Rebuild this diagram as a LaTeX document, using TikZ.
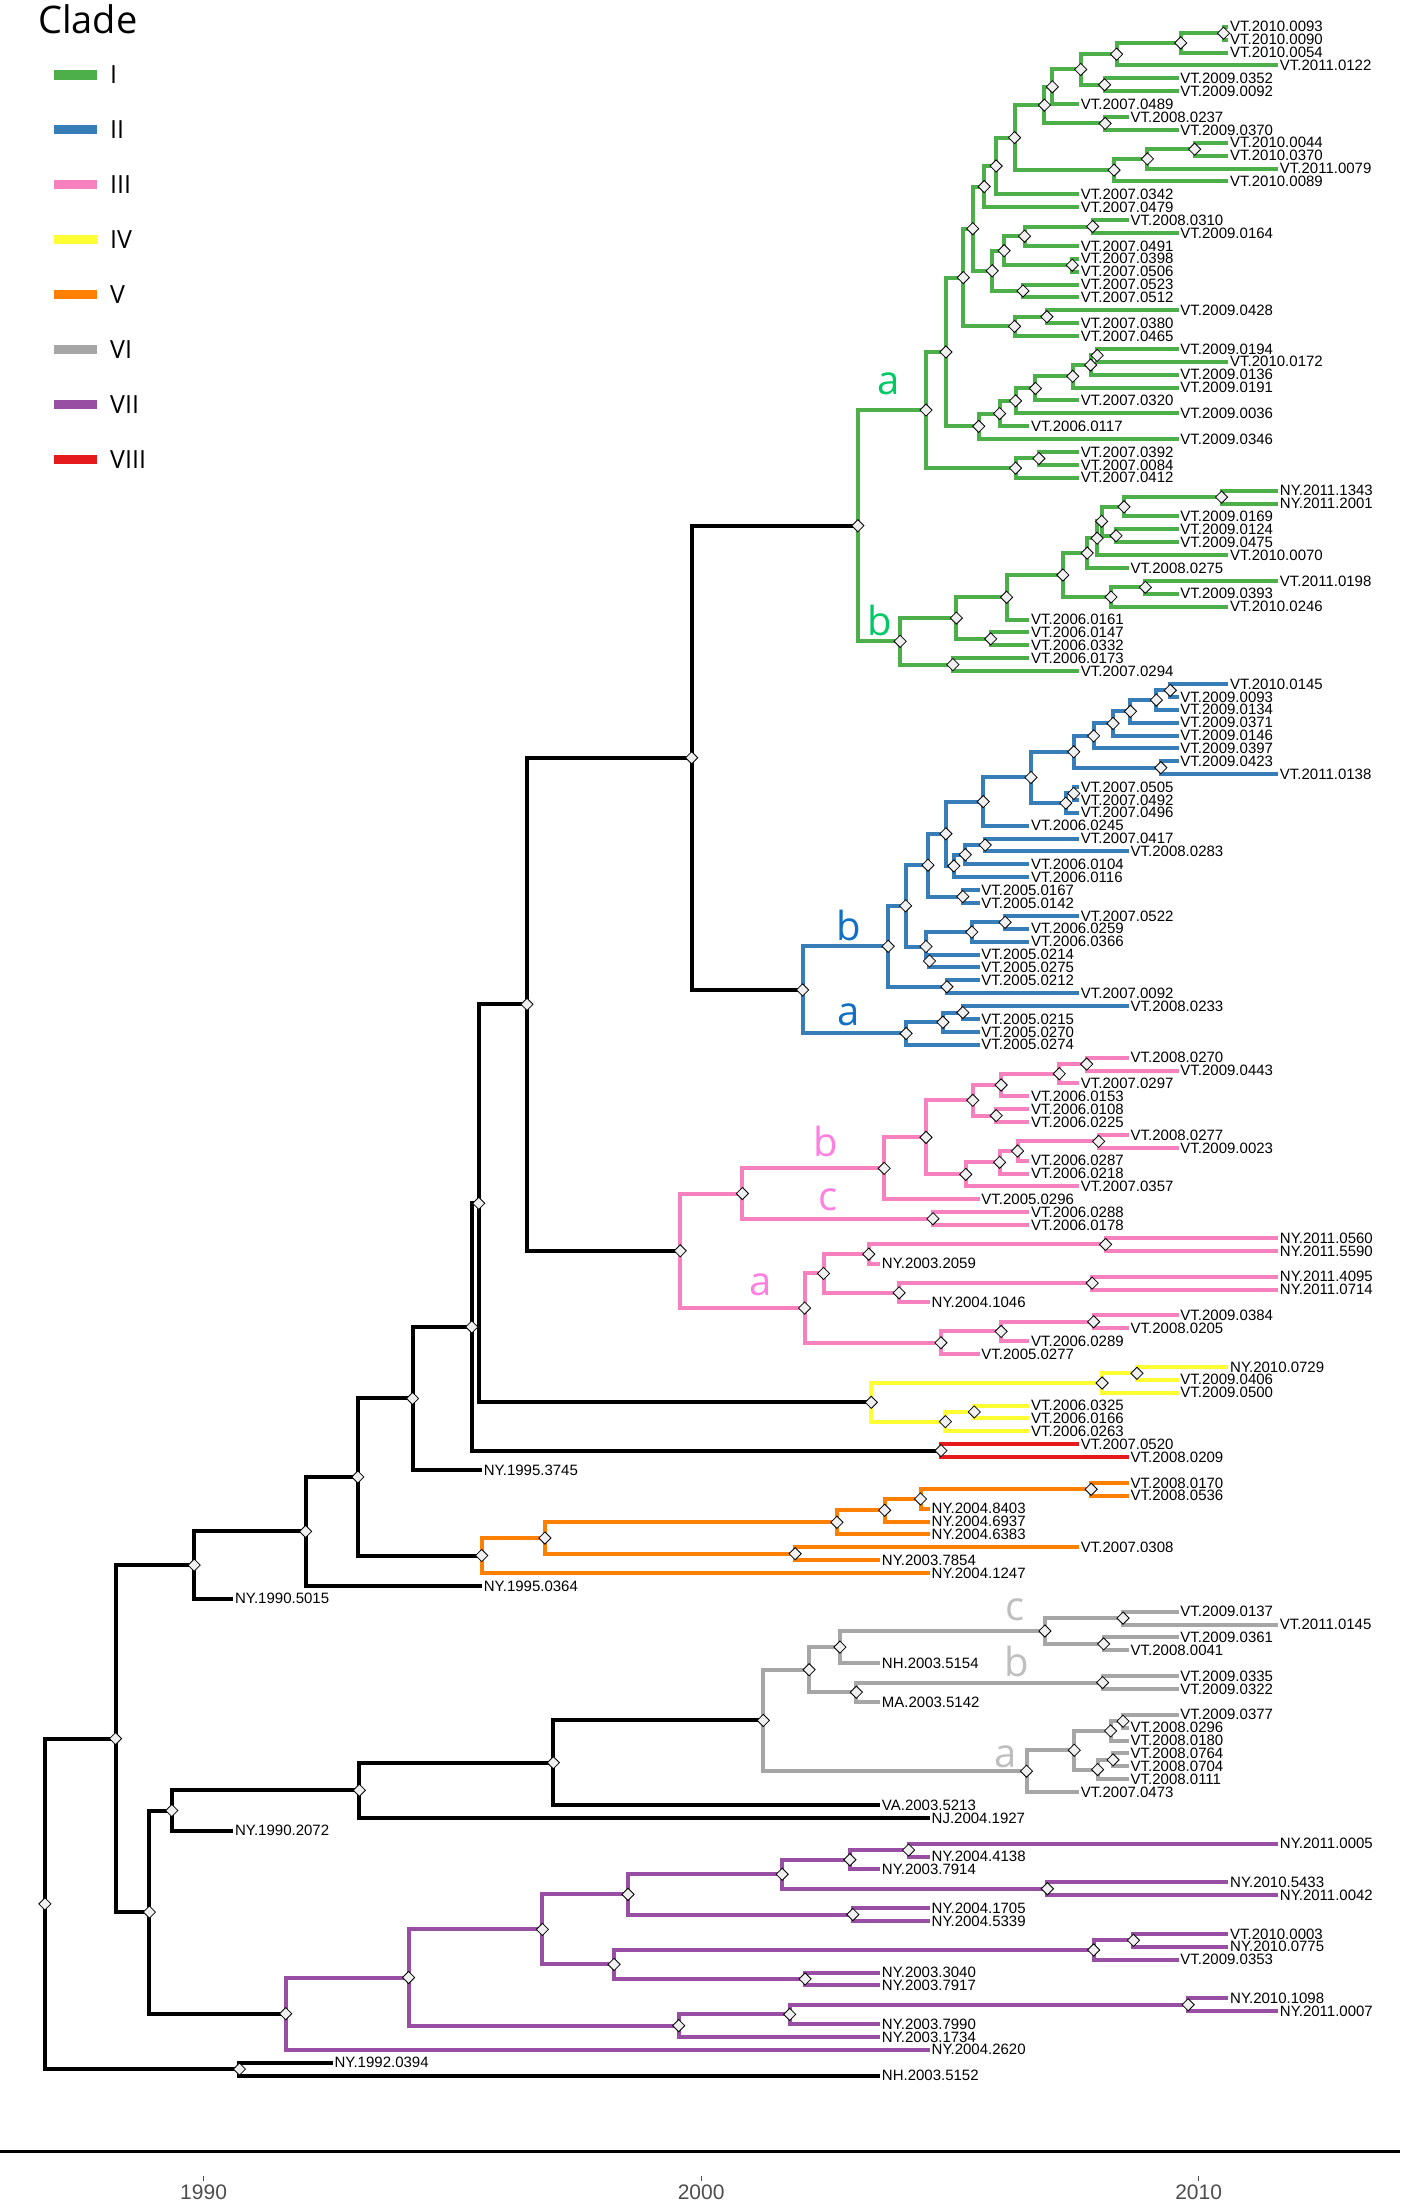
\documentclass[tikz,border=0pt]{standalone}
\usepackage{fontspec}
\setmainfont{Liberation Sans}
\newfontfamily\keyfont{Open Sans}
\usepackage{tikz}
\usetikzlibrary{shapes.geometric,calc}
\pgfdeclarelayer{bg}
\pgfsetlayers{bg,main}

\begin{document}
\begin{tikzpicture}[x=49.75pt,y=-12.885pt,
    branch/.style={line width=4pt},
    junction/.style={diamond,draw=black,fill=gray!12,line width=0.8pt,inner sep=0pt,minimum width=12.5pt,minimum height=12.5pt},
    taxon/.style={anchor=west,inner sep=1.5pt,font=\fontsize{15pt}{15pt}\selectfont},
    sublabel/.style={inner sep=0pt,font=\keyfont\fontsize{40pt}{40pt}\selectfont},
    keyline/.style={minimum width=43pt,minimum height=9.5pt,inner sep=0pt},
    keytext/.style={anchor=west,inner sep=0pt,font=\keyfont\fontsize{25pt}{25pt}\selectfont},
    yeartext/.style={text=axisgrey,inner sep=0pt,font=\fontsize{21pt}{21pt}\selectfont}]
\definecolor{cI}{RGB}{77,175,74}
\definecolor{cII}{RGB}{55,126,184}
\definecolor{cIII}{RGB}{247,129,191}
\definecolor{cIV}{RGB}{255,255,51}
\definecolor{cV}{RGB}{255,127,0}
\definecolor{cVI}{RGB}{166,166,166}
\definecolor{cVII}{RGB}{152,78,163}
\definecolor{cVIII}{RGB}{228,26,28}
\definecolor{subI}{RGB}{0,200,100}
\definecolor{subII}{RGB}{16,112,196}
\definecolor{subIII}{RGB}{255,128,224}
\definecolor{subVI}{RGB}{190,190,190}
\definecolor{axisgrey}{RGB}{77,77,77}
\def\isolate#1#2#3{\coordinate (t#1) at ({#2-1989.4},#1); \node[taxon] (l#1) at (t#1) {#3};}
\def\junc#1#2#3#4#5{\coordinate (#2m) at ($(#4)!0.5!(#5)$); \node[junction] (#2) at (#3,0 |- #2m) {};
  \begin{pgfonlayer}{bg}\draw[branch,#1] (#2.center) |- (#4.center); \draw[branch,#1] (#2.center) |- (#5.center);\end{pgfonlayer}}
\useasboundingbox (-4.0925,-1.0799) rectangle (24.048,169.89);
% tips
\isolate{1}{2010}{VT.2010.0093}
\isolate{2}{2010}{VT.2010.0090}
\isolate{3}{2010}{VT.2010.0054}
\isolate{4}{2011}{VT.2011.0122}
\isolate{5}{2009}{VT.2009.0352}
\isolate{6}{2009}{VT.2009.0092}
\isolate{7}{2007}{VT.2007.0489}
\isolate{8}{2008}{VT.2008.0237}
\isolate{9}{2009}{VT.2009.0370}
\isolate{10}{2010}{VT.2010.0044}
\isolate{11}{2010}{VT.2010.0370}
\isolate{12}{2011}{VT.2011.0079}
\isolate{13}{2010}{VT.2010.0089}
\isolate{14}{2007}{VT.2007.0342}
\isolate{15}{2007}{VT.2007.0479}
\isolate{16}{2008}{VT.2008.0310}
\isolate{17}{2009}{VT.2009.0164}
\isolate{18}{2007}{VT.2007.0491}
\isolate{19}{2007}{VT.2007.0398}
\isolate{20}{2007}{VT.2007.0506}
\isolate{21}{2007}{VT.2007.0523}
\isolate{22}{2007}{VT.2007.0512}
\isolate{23}{2009}{VT.2009.0428}
\isolate{24}{2007}{VT.2007.0380}
\isolate{25}{2007}{VT.2007.0465}
\isolate{26}{2009}{VT.2009.0194}
\isolate{27}{2010}{VT.2010.0172}
\isolate{28}{2009}{VT.2009.0136}
\isolate{29}{2009}{VT.2009.0191}
\isolate{30}{2007}{VT.2007.0320}
\isolate{31}{2009}{VT.2009.0036}
\isolate{32}{2006}{VT.2006.0117}
\isolate{33}{2009}{VT.2009.0346}
\isolate{34}{2007}{VT.2007.0392}
\isolate{35}{2007}{VT.2007.0084}
\isolate{36}{2007}{VT.2007.0412}
\isolate{37}{2011}{NY.2011.1343}
\isolate{38}{2011}{NY.2011.2001}
\isolate{39}{2009}{VT.2009.0169}
\isolate{40}{2009}{VT.2009.0124}
\isolate{41}{2009}{VT.2009.0475}
\isolate{42}{2010}{VT.2010.0070}
\isolate{43}{2008}{VT.2008.0275}
\isolate{44}{2011}{VT.2011.0198}
\isolate{45}{2009}{VT.2009.0393}
\isolate{46}{2010}{VT.2010.0246}
\isolate{47}{2006}{VT.2006.0161}
\isolate{48}{2006}{VT.2006.0147}
\isolate{49}{2006}{VT.2006.0332}
\isolate{50}{2006}{VT.2006.0173}
\isolate{51}{2007}{VT.2007.0294}
\isolate{52}{2010}{VT.2010.0145}
\isolate{53}{2009}{VT.2009.0093}
\isolate{54}{2009}{VT.2009.0134}
\isolate{55}{2009}{VT.2009.0371}
\isolate{56}{2009}{VT.2009.0146}
\isolate{57}{2009}{VT.2009.0397}
\isolate{58}{2009}{VT.2009.0423}
\isolate{59}{2011}{VT.2011.0138}
\isolate{60}{2007}{VT.2007.0505}
\isolate{61}{2007}{VT.2007.0492}
\isolate{62}{2007}{VT.2007.0496}
\isolate{63}{2006}{VT.2006.0245}
\isolate{64}{2007}{VT.2007.0417}
\isolate{65}{2008}{VT.2008.0283}
\isolate{66}{2006}{VT.2006.0104}
\isolate{67}{2006}{VT.2006.0116}
\isolate{68}{2005}{VT.2005.0167}
\isolate{69}{2005}{VT.2005.0142}
\isolate{70}{2007}{VT.2007.0522}
\isolate{71}{2006}{VT.2006.0259}
\isolate{72}{2006}{VT.2006.0366}
\isolate{73}{2005}{VT.2005.0214}
\isolate{74}{2005}{VT.2005.0275}
\isolate{75}{2005}{VT.2005.0212}
\isolate{76}{2007}{VT.2007.0092}
\isolate{77}{2008}{VT.2008.0233}
\isolate{78}{2005}{VT.2005.0215}
\isolate{79}{2005}{VT.2005.0270}
\isolate{80}{2005}{VT.2005.0274}
\isolate{81}{2008}{VT.2008.0270}
\isolate{82}{2009}{VT.2009.0443}
\isolate{83}{2007}{VT.2007.0297}
\isolate{84}{2006}{VT.2006.0153}
\isolate{85}{2006}{VT.2006.0108}
\isolate{86}{2006}{VT.2006.0225}
\isolate{87}{2008}{VT.2008.0277}
\isolate{88}{2009}{VT.2009.0023}
\isolate{89}{2006}{VT.2006.0287}
\isolate{90}{2006}{VT.2006.0218}
\isolate{91}{2007}{VT.2007.0357}
\isolate{92}{2005}{VT.2005.0296}
\isolate{93}{2006}{VT.2006.0288}
\isolate{94}{2006}{VT.2006.0178}
\isolate{95}{2011}{NY.2011.0560}
\isolate{96}{2011}{NY.2011.5590}
\isolate{97}{2003}{NY.2003.2059}
\isolate{98}{2011}{NY.2011.4095}
\isolate{99}{2011}{NY.2011.0714}
\isolate{100}{2004}{NY.2004.1046}
\isolate{101}{2009}{VT.2009.0384}
\isolate{102}{2008}{VT.2008.0205}
\isolate{103}{2006}{VT.2006.0289}
\isolate{104}{2005}{VT.2005.0277}
\isolate{105}{2010}{NY.2010.0729}
\isolate{106}{2009}{VT.2009.0406}
\isolate{107}{2009}{VT.2009.0500}
\isolate{108}{2006}{VT.2006.0325}
\isolate{109}{2006}{VT.2006.0166}
\isolate{110}{2006}{VT.2006.0263}
\isolate{111}{2007}{VT.2007.0520}
\isolate{112}{2008}{VT.2008.0209}
\isolate{113}{1995}{NY.1995.3745}
\isolate{114}{2008}{VT.2008.0170}
\isolate{115}{2008}{VT.2008.0536}
\isolate{116}{2004}{NY.2004.8403}
\isolate{117}{2004}{NY.2004.6937}
\isolate{118}{2004}{NY.2004.6383}
\isolate{119}{2007}{VT.2007.0308}
\isolate{120}{2003}{NY.2003.7854}
\isolate{121}{2004}{NY.2004.1247}
\isolate{122}{1995}{NY.1995.0364}
\isolate{123}{1990}{NY.1990.5015}
\isolate{124}{2009}{VT.2009.0137}
\isolate{125}{2011}{VT.2011.0145}
\isolate{126}{2009}{VT.2009.0361}
\isolate{127}{2008}{VT.2008.0041}
\isolate{128}{2003}{NH.2003.5154}
\isolate{129}{2009}{VT.2009.0335}
\isolate{130}{2009}{VT.2009.0322}
\isolate{131}{2003}{MA.2003.5142}
\isolate{132}{2009}{VT.2009.0377}
\isolate{133}{2008}{VT.2008.0296}
\isolate{134}{2008}{VT.2008.0180}
\isolate{135}{2008}{VT.2008.0764}
\isolate{136}{2008}{VT.2008.0704}
\isolate{137}{2008}{VT.2008.0111}
\isolate{138}{2007}{VT.2007.0473}
\isolate{139}{2003}{VA.2003.5213}
\isolate{140}{2004}{NJ.2004.1927}
\isolate{141}{1990}{NY.1990.2072}
\isolate{142}{2011}{NY.2011.0005}
\isolate{143}{2004}{NY.2004.4138}
\isolate{144}{2003}{NY.2003.7914}
\isolate{145}{2010}{NY.2010.5433}
\isolate{146}{2011}{NY.2011.0042}
\isolate{147}{2004}{NY.2004.1705}
\isolate{148}{2004}{NY.2004.5339}
\isolate{149}{2010}{VT.2010.0003}
\isolate{150}{2010}{NY.2010.0775}
\isolate{151}{2009}{VT.2009.0353}
\isolate{152}{2003}{NY.2003.3040}
\isolate{153}{2003}{NY.2003.7917}
\isolate{154}{2010}{NY.2010.1098}
\isolate{155}{2011}{NY.2011.0007}
\isolate{156}{2003}{NY.2003.7990}
\isolate{157}{2003}{NY.2003.1734}
\isolate{158}{2004}{NY.2004.2620}
\isolate{159}{1992}{NY.1992.0394}
\isolate{160}{2003}{NH.2003.5152}
% clade I
\junc{cI}{n1to2}{20.50}{t1}{t2}
\junc{cI}{n1to3}{19.64}{n1to2}{t3}
\junc{cI}{n1to4}{18.35}{n1to3}{t4}
\junc{cI}{n5to6}{18.11}{t5}{t6}
\junc{cI}{n1to6}{17.63}{n1to4}{n5to6}
\junc{cI}{n1to7}{17.06}{n1to6}{t7}
\junc{cI}{n8to9}{18.12}{t8}{t9}
\junc{cI}{n1to9}{16.90}{n1to7}{n8to9}
\junc{cI}{n10to11}{19.92}{t10}{t11}
\junc{cI}{n10to12}{18.97}{n10to11}{t12}
\junc{cI}{n10to13}{18.30}{n10to12}{t13}
\junc{cI}{n1to13}{16.30}{n1to9}{n10to13}
\junc{cI}{n1to14}{15.93}{n1to13}{t14}
\junc{cI}{n1to15}{15.69}{n1to14}{t15}
\junc{cI}{n16to17}{17.87}{t16}{t17}
\junc{cI}{n16to18}{16.50}{n16to17}{t18}
\junc{cI}{n19to20}{17.46}{t19}{t20}
\junc{cI}{n16to20}{16.09}{n16to18}{n19to20}
\junc{cI}{n21to22}{16.47}{t21}{t22}
\junc{cI}{n16to22}{15.85}{n16to20}{n21to22}
\junc{cI}{n1to22}{15.46}{n1to15}{n16to22}
\junc{cI}{n23to24}{16.95}{t23}{t24}
\junc{cI}{n23to25}{16.30}{n23to24}{t25}
\junc{cI}{n1to25}{15.27}{n1to22}{n23to25}
\junc{cI}{n26to27}{17.96}{t26}{t27}
\junc{cI}{n26to28}{17.83}{n26to27}{t28}
\junc{cI}{n26to29}{17.47}{n26to28}{t29}
\junc{cI}{n26to30}{16.72}{n26to29}{t30}
\junc{cI}{n26to31}{16.32}{n26to30}{t31}
\junc{cI}{n26to32}{16.00}{n26to31}{t32}
\junc{cI}{n26to33}{15.58}{n26to32}{t33}
\junc{cI}{n1to33}{14.92}{n1to25}{n26to33}
\junc{cI}{n34to35}{16.79}{t34}{t35}
\junc{cI}{n34to36}{16.32}{n34to35}{t36}
\junc{cI}{n1to36}{14.52}{n1to33}{n34to36}
\junc{cI}{n37to38}{20.46}{t37}{t38}
\junc{cI}{n37to39}{18.50}{n37to38}{t39}
\junc{cI}{n40to41}{18.34}{t40}{t41}
\junc{cI}{n37to41}{18.05}{n37to39}{n40to41}
\junc{cI}{n37to42}{17.96}{n37to41}{t42}
\junc{cI}{n37to43}{17.76}{n37to42}{t43}
\junc{cI}{n44to45}{18.93}{t44}{t45}
\junc{cI}{n44to46}{18.24}{n44to45}{t46}
\junc{cI}{n37to46}{17.27}{n37to43}{n44to46}
\junc{cI}{n37to47}{16.14}{n37to46}{t47}
\junc{cI}{n48to49}{15.82}{t48}{t49}
\junc{cI}{n37to49}{15.13}{n37to47}{n48to49}
\junc{cI}{n50to51}{15.06}{t50}{t51}
\junc{cI}{n37to51}{14.00}{n37to49}{n50to51}
\junc{cI}{n1to51}{13.15}{n1to36}{n37to51}
% clade II
\junc{cII}{n52to53}{19.43}{t52}{t53}
\junc{cII}{n52to54}{19.15}{n52to53}{t54}
\junc{cII}{n52to55}{18.63}{n52to54}{t55}
\junc{cII}{n52to56}{18.28}{n52to55}{t56}
\junc{cII}{n52to57}{17.89}{n52to56}{t57}
\junc{cII}{n58to59}{19.24}{t58}{t59}
\junc{cII}{n52to59}{17.49}{n52to57}{n58to59}
\junc{cII}{n60to61}{17.49}{t60}{t61}
\junc{cII}{n60to62}{17.33}{n60to61}{t62}
\junc{cII}{n52to62}{16.63}{n52to59}{n60to62}
\junc{cII}{n52to63}{15.67}{n52to62}{t63}
\junc{cII}{n64to65}{15.71}{t64}{t65}
\junc{cII}{n64to66}{15.31}{n64to65}{t66}
\junc{cII}{n64to67}{15.08}{n64to66}{t67}
\junc{cII}{n52to67}{14.92}{n52to63}{n64to67}
\junc{cII}{n68to69}{15.26}{t68}{t69}
\junc{cII}{n52to69}{14.56}{n52to67}{n68to69}
\junc{cII}{n70to71}{16.11}{t70}{t71}
\junc{cII}{n70to72}{15.44}{n70to71}{t72}
\junc{cII}{n73to74}{14.59}{t73}{t74}
\junc{cII}{n70to74}{14.52}{n70to72}{n73to74}
\junc{cII}{n52to74}{14.11}{n52to69}{n70to74}
\junc{cII}{n75to76}{14.94}{t75}{t76}
\junc{cII}{n52to76}{13.76}{n52to74}{n75to76}
\junc{cII}{n77to78}{15.26}{t77}{t78}
\junc{cII}{n77to79}{14.86}{n77to78}{t79}
\junc{cII}{n77to80}{14.12}{n77to79}{t80}
\junc{cII}{n52to80}{12.04}{n52to76}{n77to80}
\junc{black}{n1to80}{9.81}{n1to51}{n52to80}
% clade III
\junc{cIII}{n81to82}{17.75}{t81}{t82}
\junc{cIII}{n81to83}{17.20}{n81to82}{t83}
\junc{cIII}{n81to84}{16.03}{n81to83}{t84}
\junc{cIII}{n85to86}{15.93}{t85}{t86}
\junc{cIII}{n81to86}{15.46}{n81to84}{n85to86}
\junc{cIII}{n87to88}{17.99}{t87}{t88}
\junc{cIII}{n87to89}{16.36}{n87to88}{t89}
\junc{cIII}{n87to90}{16.00}{n87to89}{t90}
\junc{cIII}{n87to91}{15.32}{n87to90}{t91}
\junc{cIII}{n81to91}{14.52}{n81to86}{n87to91}
\junc{cIII}{n81to92}{13.68}{n81to91}{t92}
\junc{cIII}{n93to94}{14.66}{t93}{t94}
\junc{cIII}{n81to94}{10.83}{n81to92}{n93to94}
\junc{cIII}{n95to96}{18.13}{t95}{t96}
\junc{cIII}{n95to97}{13.37}{n95to96}{t97}
\junc{cIII}{n98to99}{17.86}{t98}{t99}
\junc{cIII}{n98to100}{13.98}{n98to99}{t100}
\junc{cIII}{n95to100}{12.46}{n95to97}{n98to100}
\junc{cIII}{n101to102}{17.89}{t101}{t102}
\junc{cIII}{n101to103}{16.03}{n101to102}{t103}
\junc{cIII}{n101to104}{14.82}{n101to103}{t104}
\junc{cIII}{n95to104}{12.08}{n95to100}{n101to104}
\junc{cIII}{n81to104}{9.58}{n81to94}{n95to104}
\junc{black}{n1to104}{6.50}{n1to80}{n81to104}
% clades IV and VIII
\junc{cIV}{n105to106}{18.76}{t105}{t106}
\junc{cIV}{n105to107}{18.06}{n105to106}{t107}
\junc{cIV}{n108to109}{15.49}{t108}{t109}
\junc{cIV}{n108to110}{14.91}{n108to109}{t110}
\junc{cIV}{n105to110}{13.42}{n105to107}{n108to110}
\junc{black}{n1to110}{5.53}{n1to104}{n105to110}
\junc{cVIII}{n111to112}{14.82}{t111}{t112}
\junc{black}{n1to112}{5.39}{n1to110}{n111to112}
\junc{black}{n1to113}{4.20}{n1to112}{t113}
% clade V
\junc{cV}{n114to115}{17.84}{t114}{t115}
\junc{cV}{n114to116}{14.41}{n114to115}{t116}
\junc{cV}{n114to117}{13.69}{n114to116}{t117}
\junc{cV}{n114to118}{12.73}{n114to117}{t118}
\junc{cV}{n119to120}{11.89}{t119}{t120}
\junc{cV}{n114to120}{6.86}{n114to118}{n119to120}
\junc{cV}{n114to121}{5.59}{n114to120}{t121}
\junc{black}{n1to121}{3.10}{n1to113}{n114to121}
\junc{black}{n1to122}{2.05}{n1to121}{t122}
\junc{black}{n1to123}{-0.19}{n1to122}{t123}
% clade VI
\junc{cVI}{n124to125}{18.48}{t124}{t125}
\junc{cVI}{n126to127}{18.09}{t126}{t127}
\junc{cVI}{n124to127}{16.91}{n124to125}{n126to127}
\junc{cVI}{n124to128}{12.79}{n124to127}{t128}
\junc{cVI}{n129to130}{18.07}{t129}{t130}
\junc{cVI}{n129to131}{13.12}{n129to130}{t131}
\junc{cVI}{n124to131}{12.17}{n124to128}{n129to131}
\junc{cVI}{n132to133}{18.48}{t132}{t133}
\junc{cVI}{n132to134}{18.23}{n132to133}{t134}
\junc{cVI}{n135to136}{18.28}{t135}{t136}
\junc{cVI}{n135to137}{17.97}{n135to136}{t137}
\junc{cVI}{n132to137}{17.50}{n132to134}{n135to137}
\junc{cVI}{n132to138}{16.54}{n132to137}{t138}
\junc{cVI}{n124to138}{11.25}{n124to131}{n132to138}
\junc{black}{n124to139}{7.03}{n124to138}{t139}
\junc{black}{n124to140}{3.13}{n124to139}{t140}
\junc{black}{n124to141}{-0.64}{n124to140}{t141}
% clade VII
\junc{cVII}{n142to143}{14.17}{t142}{t143}
\junc{cVII}{n142to144}{12.99}{n142to143}{t144}
\junc{cVII}{n145to146}{16.96}{t145}{t146}
\junc{cVII}{n142to146}{11.63}{n142to144}{n145to146}
\junc{cVII}{n147to148}{13.05}{t147}{t148}
\junc{cVII}{n142to148}{8.53}{n142to146}{n147to148}
\junc{cVII}{n149to150}{18.69}{t149}{t150}
\junc{cVII}{n149to151}{17.89}{n149to150}{t151}
\junc{cVII}{n152to153}{12.09}{t152}{t153}
\junc{cVII}{n149to153}{8.25}{n149to151}{n152to153}
\junc{cVII}{n142to153}{6.81}{n142to148}{n149to153}
\junc{cVII}{n154to155}{19.79}{t154}{t155}
\junc{cVII}{n154to156}{11.78}{n154to155}{t156}
\junc{cVII}{n154to157}{9.55}{n154to156}{t157}
\junc{cVII}{n142to157}{4.12}{n142to153}{n154to157}
\junc{cVII}{n142to158}{1.65}{n142to157}{t158}
\junc{black}{n124to158}{-1.09}{n124to141}{n142to158}
\junc{black}{n1to158}{-1.77}{n1to123}{n124to158}
\junc{black}{n159to160}{0.72}{t159}{t160}
\junc{black}{n1to160}{-3.19}{n1to158}{n159to160}
\begin{scope}[shift={(-4.0925,-1.0799)},x=1pt,y=-1pt]
% sub-clade letters
\node[sublabel,text=subI] (Ia) at (888.4,383.3) {a};
\node[sublabel,text=subI] (Ib) at (879.4,620) {b};
\node[sublabel,text=subII] (IIb) at (849,925) {b};
\node[sublabel,text=subII] (IIa) at (849,1015) {a};
\node[sublabel,text=subIII] (IIIb) at (825.6,1141.7) {b};
\node[sublabel,text=subIII] (IIIc) at (827.6,1200) {c};
\node[sublabel,text=subIII] (IIIa) at (760.6,1284.6) {a};
\node[sublabel,text=subVI] (VIc) at (1015.4,1610) {c};
\node[sublabel,text=subVI] (VIb) at (1016.4,1661) {b};
\node[sublabel,text=subVI] (VIa) at (1005.1,1756.7) {a};
% legend
\node[anchor=base west,inner sep=0pt,font=\keyfont\fontsize{38pt}{38pt}\selectfont] (key) at (38,33) {Clade};
\node[keyline,fill=cI] (keyI) at (75.5,75) {};
\node[keytext] (keyIt) at (110,75) {I};
\node[keyline,fill=cII] (keyII) at (75.5,129.5) {};
\node[keytext] (keyIIt) at (110,129.5) {II};
\node[keyline,fill=cIII] (keyIII) at (75.5,184.5) {};
\node[keytext] (keyIIIt) at (110,184.5) {III};
\node[keyline,fill=cIV] (keyIV) at (75.5,239.5) {};
\node[keytext] (keyIVt) at (110,239.5) {IV};
\node[keyline,fill=cV] (keyV) at (75.5,294.5) {};
\node[keytext] (keyVt) at (110,294.5) {V};
\node[keyline,fill=cVI] (keyVI) at (75.5,349.5) {};
\node[keytext] (keyVIt) at (110,349.5) {VI};
\node[keyline,fill=cVII] (keyVII) at (75.5,404.5) {};
\node[keytext] (keyVIIt) at (110,404.5) {VII};
\node[keyline,fill=cVIII] (keyVIII) at (75.5,459.5) {};
\node[keytext] (keyVIIIt) at (110,459.5) {VIII};
% time axis
\draw[line width=3pt] (0,2151) -- (1400,2151);
\draw[axisgrey,line width=0.8pt] (203.6,2176) -- (203.6,2181);
\draw[axisgrey,line width=0.8pt] (701.1,2176) -- (701.1,2181);
\draw[axisgrey,line width=0.8pt] (1198.6,2176) -- (1198.6,2181);
\node[yeartext] (y1990) at (203.6,2192.5) {1990};
\node[yeartext] (y2000) at (701.1,2192.5) {2000};
\node[yeartext] (y2010) at (1198.6,2192.5) {2010};
\end{scope}
\end{tikzpicture}
\end{document}
